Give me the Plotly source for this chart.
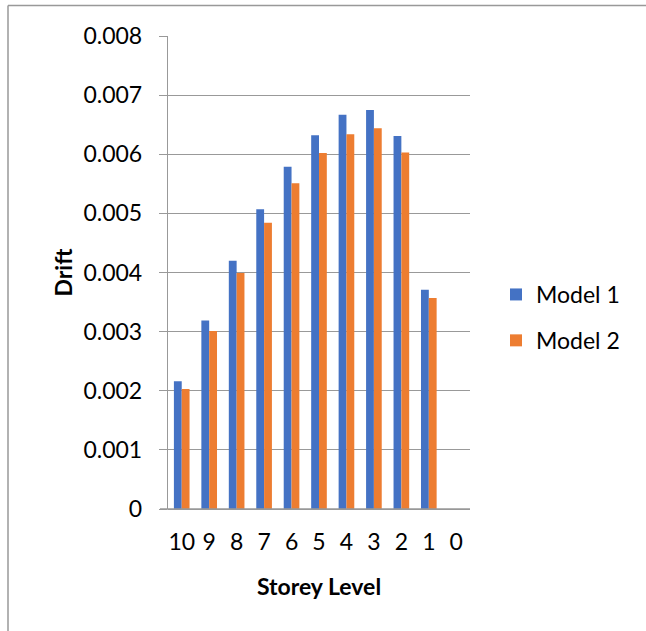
import plotly.graph_objects as go

storey_levels = ["10", "9", "8", "7", "6", "5", "4", "3", "2", "1", "0"]
model1_drift = [0.00216, 0.00319, 0.00420, 0.00507, 0.00579, 0.00632, 0.00667, 0.00675, 0.00631, 0.00371, None]
model2_drift = [0.00203, 0.00301, 0.00399, 0.00484, 0.00551, 0.00602, 0.00634, 0.00644, 0.00603, 0.00357, None]
y_ticks = [0, 0.001, 0.002, 0.003, 0.004, 0.005, 0.006, 0.007, 0.008]
y_tick_text = ["0", "0.001", "0.002", "0.003", "0.004", "0.005", "0.006", "0.007", "0.008"]

FONT = "Lato"
FS = 23
GRID = "#999999"

fig = go.Figure()
fig.add_trace(go.Bar(x=storey_levels, y=model1_drift, name="Model 1",
                     marker=dict(color="#4472C4", line=dict(width=0)),
                     legendgroup="m1"))
fig.add_trace(go.Bar(x=storey_levels, y=model2_drift, name="Model 2",
                     marker=dict(color="#ED7D31", line=dict(width=0)),
                     legendgroup="m2"))

L, R, T, B = 168, 176, 36, 122
W, H = 646, 631
pw = W - L - R
ph = H - T - B

def px2paper_x(px):
    return (px - L) / pw

def px2paper_y(py):
    return (H - B - py) / ph

fig.update_layout(
    width=W, height=H,
    margin=dict(l=L, r=R, t=T, b=B, autoexpand=False),
    paper_bgcolor="white", plot_bgcolor="white",
    barmode="group", bargap=0.43, bargroupgap=0,
    font=dict(family=FONT, size=FS, color="#000000"),
    showlegend=True,
    legend=dict(x=px2paper_x(496), y=px2paper_y(273), xanchor="left", yanchor="top",
                font=dict(family=FONT, size=FS, color="#000000"),
                tracegroupgap=13, bgcolor="rgba(0,0,0,0)"),
    xaxis=dict(type="category", categoryorder="array", categoryarray=storey_levels,
               tickmode="array", tickvals=storey_levels, ticktext=storey_levels,
               showgrid=False, showline=False, ticks="", zeroline=False,
               tickfont=dict(family=FONT, size=FS),
               ticklabelstandoff=17,
               title=dict(text="<b>Storey Level</b>", font=dict(family=FONT, size=FS), standoff=24)),
    yaxis=dict(range=[0, 0.008], tickvals=y_ticks, ticktext=y_tick_text,
               showgrid=True, gridcolor=GRID, gridwidth=1.4,
               showline=True, linecolor=GRID, linewidth=1.4,
               ticks="outside", ticklen=8, tickcolor=GRID, tickwidth=1.4,
               zeroline=True, zerolinecolor=GRID, zerolinewidth=1.4,
               tickfont=dict(family=FONT, size=FS),
               ticklabelstandoff=12,
               title=dict(text="<b>Drift</b>", font=dict(family=FONT, size=FS), standoff=4)),
)

# chart-area border (top and left edges visible)
fig.add_shape(type="line", xref="paper", yref="paper",
              x0=px2paper_x(8), x1=px2paper_x(W + 5), y0=px2paper_y(5.5), y1=px2paper_y(5.5),
              line=dict(color=GRID, width=1.5), layer="above")
fig.add_shape(type="line", xref="paper", yref="paper",
              x0=px2paper_x(8), x1=px2paper_x(8), y0=px2paper_y(5.5), y1=px2paper_y(H + 5),
              line=dict(color=GRID, width=1.5), layer="above")
# extend the zero line left like the other gridline ticks
fig.add_shape(type="line", xref="paper", yref="paper",
              x0=px2paper_x(160), x1=1.0, y0=0, y1=0,
              line=dict(color=GRID, width=1.4), layer="above")

fig.write_html("out.html", config={"displayModeBar": False},
               post_script="document.body.style.margin='0';")
